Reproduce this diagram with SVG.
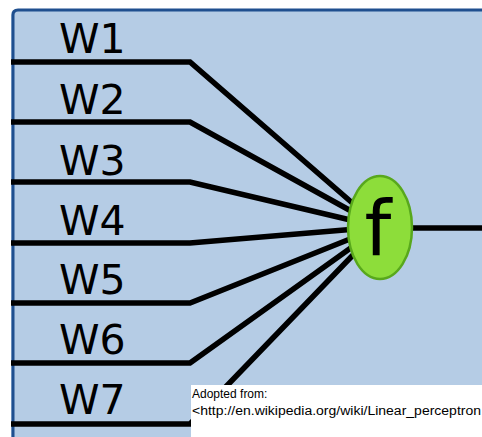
<svg xmlns="http://www.w3.org/2000/svg" width="482" height="437" viewBox="0 0 482 437">
  <style>
    .lbl { font-family: "DejaVu Sans", sans-serif; font-size: 41px; fill: #000; }
    .wire { fill: none; stroke: #000; stroke-width: 5.5; stroke-linejoin: miter; }
    .note { font-family: "Liberation Sans", Arial, sans-serif; font-size: 12px; fill: #000; }
  </style>
  <rect x="0" y="0" width="482" height="437" fill="#ffffff"/>
  <g id="background">
    <path d="M11 437 L11 15 Q11 9 17 9 L482 9 L482 437 Z" fill="#b5cce5"/>
    <path d="M13 437 L13 15 Q13 10 18 10 L482 10" fill="none" stroke="#1f4f8f" stroke-width="3"/>
  </g>
  <g id="connectors">
    <polyline class="wire" points="11,62 190,62 380,227"/>
    <polyline class="wire" points="11,122 190,122 380,227"/>
    <polyline class="wire" points="11,182 190,182 380,227"/>
    <polyline class="wire" points="11,243 190,243 380,227"/>
    <polyline class="wire" points="11,303 190,303 380,227"/>
    <polyline class="wire" points="11,363 190,363 380,227"/>
    <polyline class="wire" points="11,424 190,424 380,227"/>
    <line class="wire" x1="412" y1="228" x2="482" y2="228"/>
  </g>
  <g id="labels">
    <text class="lbl" x="59" y="53">W1</text>
    <text class="lbl" x="59" y="114">W2</text>
    <text class="lbl" x="59" y="175">W3</text>
    <text class="lbl" x="59" y="235">W4</text>
    <text class="lbl" x="59" y="294">W5</text>
    <text class="lbl" x="59" y="354">W6</text>
    <text class="lbl" x="59" y="414">W7</text>
  </g>
  <g id="node-f">
    <ellipse cx="380" cy="227.5" rx="32" ry="51.5" fill="#8ddd3a" stroke="#58a81c" stroke-width="2.5"/>
    <text x="378" y="255" text-anchor="middle" style="font-family: 'DejaVu Sans', sans-serif; font-size: 76px; fill: #000;">f</text>
  </g>
  <g id="credit">
    <rect x="191" y="385" width="291" height="52" fill="#ffffff"/>
    <text class="note" x="192" y="398">Adopted from:</text>
    <text class="note" x="192" y="415" textLength="289" lengthAdjust="spacingAndGlyphs">&lt;http://en.wikipedia.org/wiki/Linear_perceptron</text>
  </g>
</svg>
